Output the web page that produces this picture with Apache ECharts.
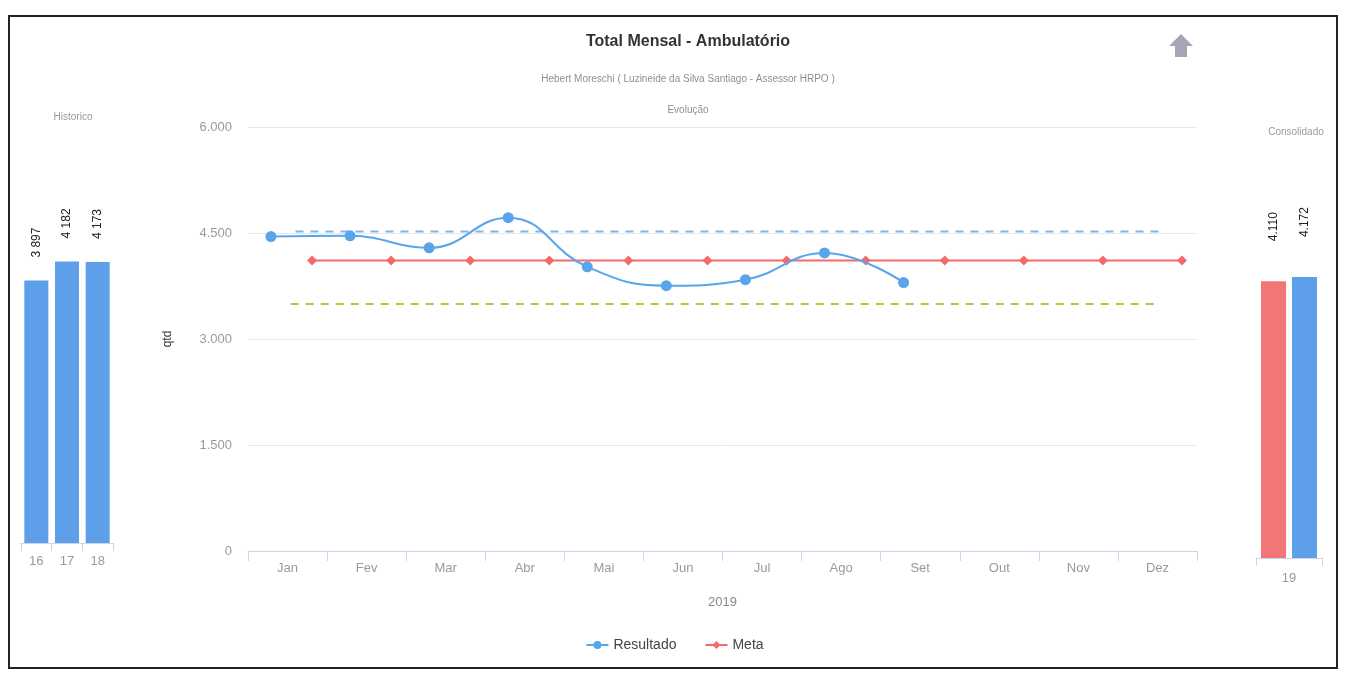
<!DOCTYPE html>
<html>
<head>
<meta charset="utf-8">
<script src="https://cdn.jsdelivr.net/npm/echarts@6/dist/echarts.min.js"></script>
<style>
html,body{margin:0;padding:0;background:#fff;}
#chart{width:1349px;height:682px;}
#frame{position:absolute;left:8px;top:15px;width:1330px;height:654px;border:2px solid #222;pointer-events:none;box-sizing:border-box;}
</style>
</head>
<body>
<div id="chart"></div>
<div id="frame"></div>
<script>
// ---- data ----
const months = ['Jan','Fev','Mar','Abr','Mai','Jun','Jul','Ago','Set','Out','Nov','Dez'];
const resultado = [4450, 4460, 4290, 4717, 4021, 3755, 3840, 4218, 3798];
const meta = [4110, 4110, 4110, 4110, 4110, 4110, 4110, 4110, 4110, 4110, 4110, 4110];
const limiteSuperior = [4521, 4521, 4521, 4521, 4521, 4521, 4521, 4521, 4521, 4521, 4521, 4521];
const limiteInferior = [3494, 3494, 3494, 3494, 3494, 3494, 3494, 3494, 3494, 3494, 3494, 3494];
const histCategories = ['16','17','18'];
const histValues = [3897, 4182, 4173];
const consCategories = ['19'];
const consMeta = [4110];
const consResultado = [4172];
const yTicks = [0, 1500, 3000, 4500, 6000];

// ---- style constants ----
const RES_OFFSET = -0.21, META_OFFSET = 0.31, SUP_OFFSET = 0.1, INF_OFFSET = 0.04;
const C_RES = '#59a5ec', C_META = '#f36a6c', C_BAR = '#5d9fe8', C_RED = '#f37676';
const AXIS_C = '#ccd6eb', LBL_C = '#9a9a9a';

const fmtDot = v => String(v).replace(/\B(?=(\d{3})+(?!\d))/g, '.');
const fmtSpace = v => String(v).replace(/\B(?=(\d{3})+(?!\d))/g, ' ');
const place = (arr, off) => arr.map((v, i) => [i + off, v]);

const chart = echarts.init(document.getElementById('chart'));
chart.setOption({
  animation: false,
  backgroundColor: '#fff',
  textStyle: {fontFamily: 'Liberation Sans, Arial, sans-serif'},
  title: [
    {text: 'Total Mensal - Ambulatório', left: 683, top: 29, textAlign: 'center',
     textStyle: {fontSize: 16, fontWeight: 'bold', color: '#333'}},
    {text: 'Hebert Moreschi ( Luzineide da Silva Santiago - Assessor HRPO )', left: 683, top: 69, textAlign: 'center',
     textStyle: {fontSize: 10, fontWeight: 'normal', color: '#8f8f8f'}},
    {text: 'Evolução', left: 683, top: 100, textAlign: 'center',
     textStyle: {fontSize: 10, fontWeight: 'normal', color: '#8f8f8f'}},
    {text: 'Historico', left: 68, top: 107, textAlign: 'center',
     textStyle: {fontSize: 10, fontWeight: 'normal', color: '#9a9a9a'}},
    {text: 'Consolidado', left: 1291, top: 122, textAlign: 'center',
     textStyle: {fontSize: 10, fontWeight: 'normal', color: '#9a9a9a'}}
  ],
  legend: {
    data: ['Resultado', 'Meta'],
    left: 'center', top: 633, itemWidth: 22, itemHeight: 10, itemGap: 28,
    textStyle: {fontSize: 14, color: '#444'}
  },
  graphic: [{
    type: 'polygon', z: 100,
    shape: {points: [[1181,34],[1193,46],[1187,46],[1187,57],[1175,57],[1175,46],[1169,46]]},
    style: {fill: '#aaa3b4'}
  }],
  grid: [
    {left: 21, top: 139, width: 92, height: 404},
    {left: 248, top: 127, width: 949, height: 424},
    {left: 1256, top: 154, width: 66, height: 404}
  ],
  xAxis: [
    {gridIndex: 0, type: 'category', data: histCategories,
     axisLine: {lineStyle: {color: AXIS_C}}, axisTick: {show: true, length: 8, lineStyle: {color: AXIS_C}},
     axisLabel: {fontSize: 13, color: LBL_C, margin: 12}},
    {gridIndex: 1, type: 'category', data: months, name: '2019', nameLocation: 'middle', nameGap: 45,
     nameTextStyle: {fontSize: 13, color: '#888'},
     axisLine: {lineStyle: {color: AXIS_C}}, axisTick: {show: true, length: 10, lineStyle: {color: AXIS_C}},
     axisLabel: {fontSize: 13, color: LBL_C, margin: 11}},
    {gridIndex: 1, type: 'value', min: -0.5, max: 11.5, show: false},
    {gridIndex: 2, type: 'category', data: consCategories,
     axisLine: {lineStyle: {color: AXIS_C}}, axisTick: {show: true, length: 8, lineStyle: {color: AXIS_C}},
     axisLabel: {fontSize: 13, color: LBL_C, margin: 14}}
  ],
  yAxis: [
    {gridIndex: 0, type: 'value', min: 0, max: 6000, show: false},
    {gridIndex: 1, type: 'value', min: yTicks[0], max: yTicks[yTicks.length-1], interval: 1500,
     name: 'qtd', nameLocation: 'middle', nameGap: 74, nameRotate: 90,
     nameTextStyle: {fontSize: 12, color: '#333'},
     axisLine: {show: false}, axisTick: {show: false},
     splitLine: {lineStyle: {color: '#e8e8e8'}},
     axisLabel: {fontSize: 13, color: LBL_C, margin: 16, formatter: v => fmtDot(v)}},
    {gridIndex: 2, type: 'value', min: 0, max: 6000, show: false}
  ],
  series: [
    {type: 'bar', xAxisIndex: 0, yAxisIndex: 0, data: histValues, barWidth: 24,
     itemStyle: {color: C_BAR},
     label: {show: true, position: 'top', rotate: 90, align: 'left', verticalAlign: 'middle',
             distance: 23, fontSize: 12, color: '#222', formatter: p => fmtSpace(p.value)}},
    {name: 'Limite Superior', type: 'line', xAxisIndex: 2, yAxisIndex: 1, data: place(limiteSuperior, SUP_OFFSET),
     showSymbol: false, lineStyle: {color: '#7fb6ee', width: 2, type: [8, 7]}, silent: true, z: 1},
    {name: 'Limite Inferior', type: 'line', xAxisIndex: 2, yAxisIndex: 1, data: place(limiteInferior, INF_OFFSET),
     showSymbol: false, lineStyle: {color: '#b9c634', width: 2, type: [8, 7]}, silent: true, z: 1},
    {name: 'Resultado', type: 'line', xAxisIndex: 2, yAxisIndex: 1, data: place(resultado, RES_OFFSET),
     smooth: 0.45, symbol: 'circle', symbolSize: 11, color: C_RES,
     lineStyle: {color: C_RES, width: 2}, itemStyle: {color: C_RES}, z: 3},
    {name: 'Meta', type: 'line', xAxisIndex: 2, yAxisIndex: 1, data: place(meta, META_OFFSET),
     symbol: 'diamond', symbolSize: 10, color: C_META,
     lineStyle: {color: C_META, width: 2}, itemStyle: {color: C_META}, z: 2},
    {type: 'bar', xAxisIndex: 3, yAxisIndex: 2, data: consMeta, barWidth: 25, barGap: '24%',
     itemStyle: {color: C_RED},
     label: {show: true, position: 'top', rotate: 90, align: 'left', verticalAlign: 'middle',
             distance: 40, fontSize: 12, color: '#222', formatter: p => fmtDot(p.value)}},
    {type: 'bar', xAxisIndex: 3, yAxisIndex: 2, data: consResultado, barWidth: 25, barGap: '24%',
     itemStyle: {color: C_BAR},
     label: {show: true, position: 'top', rotate: 90, align: 'left', verticalAlign: 'middle',
             distance: 40, fontSize: 12, color: '#222', formatter: p => fmtDot(p.value)}}
  ]
});
</script>
</body>
</html>
